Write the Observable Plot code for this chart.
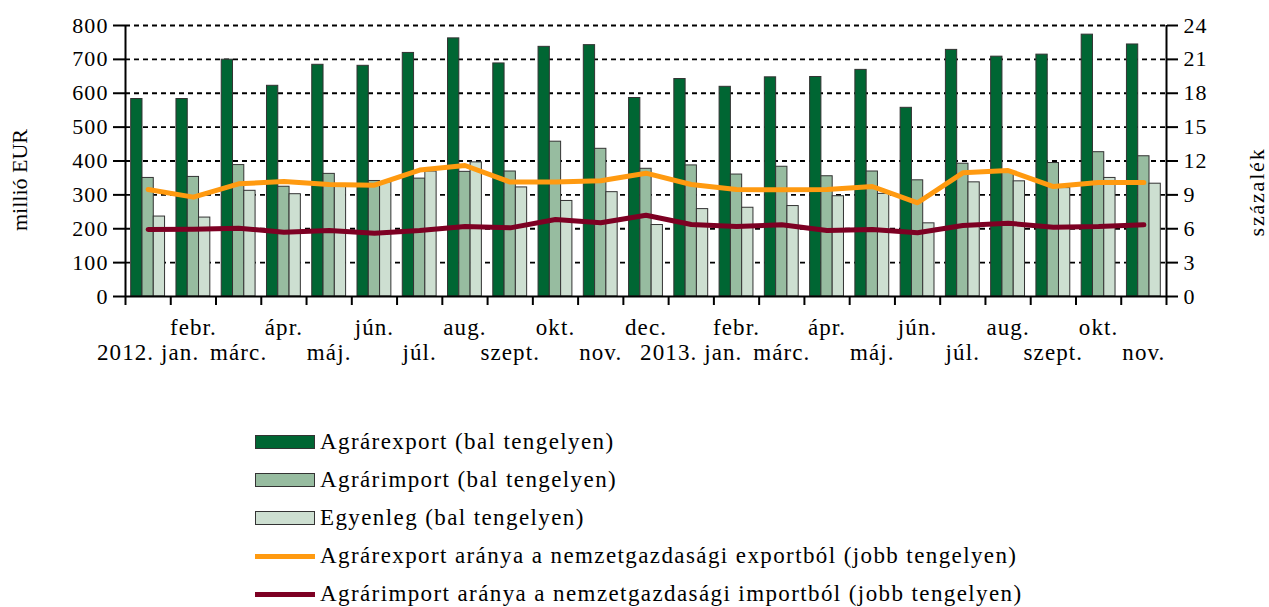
<!DOCTYPE html>
<html>
<head>
<meta charset="utf-8">
<script src="https://cdn.jsdelivr.net/npm/d3@7"></script>
<script src="https://cdn.jsdelivr.net/npm/@observablehq/plot@0.6"></script>
<style>
  html, body { margin: 0; padding: 0; background: #fff; }
  body { position: relative; width: 1269px; height: 607px; overflow: hidden; }
  #chart svg { display: block; }
  .serif { font-family: "Liberation Serif", Tinos, "Times New Roman", "DejaVu Serif", serif; color: #000; }
  .legend { margin-top: 43px; padding-left: 255px; font-size: 23px; letter-spacing: 1.4px; }
  .legend .row { height: 38px; display: flex; align-items: center; white-space: nowrap; }
  .legend .sw { width: 60px; height: 14px; box-sizing: border-box; border: 1.5px solid #333; margin-right: 5px; }
  .legend .ln { width: 60px; height: 5px; margin-right: 5px; }
  .axlabel { position: absolute; font-size: 22px; white-space: nowrap; transform: translate(-50%, -50%) rotate(-90deg); }
</style>
</head>
<body>
<div id="chart"></div>
<div class="legend serif" id="legend"></div>
<div class="axlabel serif" style="left:20px; top:180px; letter-spacing:0px;">millió EUR</div>
<div class="axlabel serif" style="left:1257px; top:192px; letter-spacing:1.8px;">százalék</div>
<script>
const months = ["2012. jan.","febr.","márc.","ápr.","máj.","jún.","júl.","aug.","szept.","okt.","nov.","dec.",
                "2013. jan.","febr.","márc.","ápr.","máj.","jún.","júl.","aug.","szept.","okt.","nov."];
const agrarExport = [583,583,699,622,684,681,719,762,688,737,742,586,642,619,647,648,669,557,728,708,714,773,744];
const agrarImport = [350,353,388,324,362,341,348,368,369,457,436,377,387,360,383,355,369,343,392,368,394,426,414];
const egyenleg    = [236,233,312,302,325,337,369,396,322,282,308,211,258,262,267,296,303,216,337,340,320,350,333];
const exportShare = [9.48,8.8,9.98,10.19,9.92,9.86,11.2,11.6,10.13,10.13,10.25,10.92,9.92,9.48,9.45,9.48,9.74,8.3,10.95,11.16,9.74,10.1,10.1];
const importShare = [5.93,5.96,6.05,5.7,5.85,5.61,5.85,6.2,6.08,6.82,6.53,7.2,6.38,6.2,6.35,5.85,5.93,5.64,6.29,6.49,6.14,6.2,6.35];
const leftTicks = [0,100,200,300,400,500,600,700,800];
const rightTicks = [0,3,6,9,12,15,18,21,24];

const seriesNames = ["Agrárexport (bal tengelyen)","Agrárimport (bal tengelyen)","Egyenleg (bal tengelyen)"];
const barColors = ["#006633","#97bca0","#cddfd1"];
const lineNames = ["Agrárexport aránya a nemzetgazdasági exportból (jobb tengelyen)","Agrárimport aránya a nemzetgazdasági importból (jobb tengelyen)"];
const lineColors = ["#ff9a10","#7d0023"];

const k = 800 / 24;
const pad = 0.126, bw = (1 - 2 * pad) / 3;
const series = [agrarExport, agrarImport, egyenleg];
const rows = [];
months.forEach((m, i) => {
  series.forEach((s, j) => {
    rows.push({i, series: seriesNames[j], value: s[i], x1: i + pad + j * bw, x2: i + pad + (j + 1) * bw});
  });
});
const idx = d3.range(months.length);
const fam = "'Liberation Serif', Tinos, 'Times New Roman', 'DejaVu Serif', serif";

const chart = Plot.plot({
  width: 1269,
  height: 380,
  marginLeft: 125,
  marginRight: 103,
  marginTop: 25,
  marginBottom: 84,
  style: {fontFamily: fam, fontSize: "22px", color: "#000", background: "#fff"},
  x: {type: "linear", domain: [0, months.length], axis: null},
  y: {domain: [0, 800], axis: null},
  color: {domain: seriesNames, range: barColors},
  marks: [
    Plot.ruleY(leftTicks.filter(d => d > 0), {stroke: "#000", strokeWidth: 1.8, strokeDasharray: "5,4"}),
    Plot.rectY(rows, {x1: "x1", x2: "x2", y: "value", fill: "series", stroke: "#333", strokeWidth: 1}),
    Plot.line(exportShare, {x: (d, i) => i + 0.5, y: d => d * k, stroke: lineColors[0], strokeWidth: 5, strokeLinejoin: "round"}),
    Plot.line(importShare, {x: (d, i) => i + 0.5, y: d => d * k, stroke: lineColors[1], strokeWidth: 5, strokeLinejoin: "round"}),
    Plot.ruleX([0, months.length], {y1: 0, y2: 800, stroke: "#000", strokeWidth: 2}),
    Plot.ruleY([0], {stroke: "#000", strokeWidth: 2}),
    Plot.axisY({ticks: leftTicks, tickSize: 12, tickPadding: 5, strokeWidth: 2, label: null, fontSize: 22}),
    Plot.axisY({anchor: "right", ticks: rightTicks.map(d => d * k), tickFormat: d => Math.round(d / k), tickSize: 11, tickPadding: 6, strokeWidth: 2, label: null, fontSize: 22}),
    Plot.axisX({ticks: d3.range(months.length + 1), tickFormat: () => "", tickSize: 9, strokeWidth: 2, label: null}),
    Plot.text(idx.filter(i => i % 2 === 1), {x: i => i + 0.5, text: i => months[i], frameAnchor: "bottom", dy: 31, fontSize: 23, lineAnchor: "middle"}),
    Plot.text(idx.filter(i => i % 2 === 0), {x: i => i + 0.5, text: i => months[i], frameAnchor: "bottom", dy: 56, fontSize: 23, lineAnchor: "middle"})
  ]
});
chart.querySelectorAll("text").forEach(t => t.style.letterSpacing = "1.1px");
document.getElementById("chart").appendChild(chart);

const legend = document.getElementById("legend");
seriesNames.forEach((n, j) => {
  const r = document.createElement("div"); r.className = "row";
  r.innerHTML = `<span class="sw" style="background:${barColors[j]}"></span><span>${n}</span>`;
  legend.appendChild(r);
});
lineNames.forEach((n, j) => {
  const r = document.createElement("div"); r.className = "row";
  r.innerHTML = `<span class="ln" style="background:${lineColors[j]}"></span><span>${n}</span>`;
  legend.appendChild(r);
});
</script>
</body>
</html>
